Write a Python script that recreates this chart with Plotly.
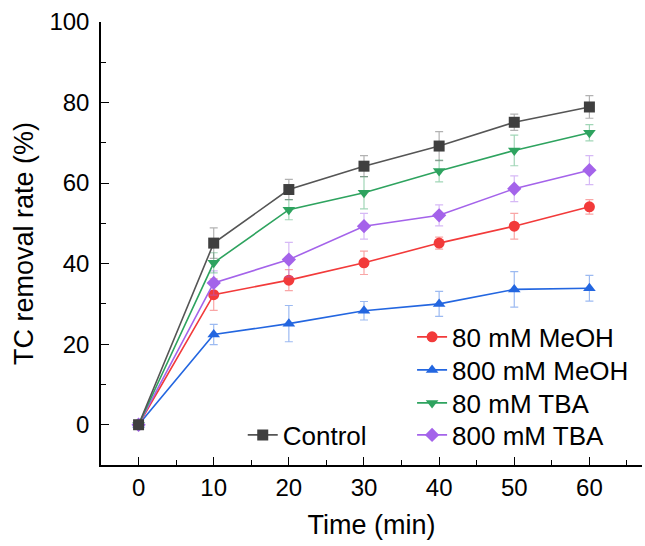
import plotly.graph_objects as go

time_min = [0, 10, 20, 30, 40, 50, 60]

series_names = ["Control", "80 mM MeOH", "800 mM MeOH", "80 mM TBA", "800 mM TBA"]

control = [0, 45.1, 58.4, 64.2, 69.2, 75.1, 78.9]
control_err = [0, 3.8, 2.5, 2.6, 3.6, 2.0, 2.8]

meoh80 = [0, 32.3, 35.9, 40.2, 45.1, 49.3, 54.1]
meoh80_err = [0, 3.9, 2.6, 2.9, 1.5, 3.2, 1.8]

meoh800 = [0, 22.4, 25.1, 28.3, 30.0, 33.6, 33.9]
meoh800_err = [0, 2.5, 4.5, 2.3, 3.1, 4.4, 3.2]

tba80 = [0, 40.2, 53.4, 57.6, 63.0, 68.1, 72.5]
tba80_err = [0, 2.5, 2.5, 4.0, 2.7, 3.8, 2.0]

tba800 = [0, 35.2, 41.0, 49.3, 52.0, 58.6, 63.2]
tba800_err = [0, 3.0, 4.3, 3.2, 2.6, 3.2, 3.6]

styles = {
    "Control": dict(color="#555555", mcolor="#3f3f3f", symbol="square"),
    "80 mM MeOH": dict(color="#f23a3a", mcolor="#f23a3a", symbol="circle"),
    "800 mM MeOH": dict(color="#2366e0", mcolor="#2366e0", symbol="triangle-up"),
    "80 mM TBA": dict(color="#2ea35f", mcolor="#2ea35f", symbol="triangle-down"),
    "800 mM TBA": dict(color="#a463ea", mcolor="#a463ea", symbol="diamond"),
}

# one legend box per series
legend_ids = {
    "Control": "legend",
    "80 mM MeOH": "legend2",
    "800 mM MeOH": "legend3",
    "80 mM TBA": "legend4",
    "800 mM TBA": "legend5",
}

def rgba(hexc, a):
    h = hexc.lstrip("#")
    r, g, b = int(h[0:2], 16), int(h[2:4], 16), int(h[4:6], 16)
    return f"rgba({r},{g},{b},{a})"

data = {
    "Control": (control, control_err),
    "80 mM MeOH": (meoh80, meoh80_err),
    "800 mM MeOH": (meoh800, meoh800_err),
    "80 mM TBA": (tba80, tba80_err),
    "800 mM TBA": (tba800, tba800_err),
}

fig = go.Figure()
draw_order = ["800 mM MeOH", "80 mM MeOH", "800 mM TBA", "80 mM TBA", "Control"]
for name in draw_order:
    y, e = data[name]
    s = styles[name]
    fig.add_trace(go.Scatter(
        x=time_min, y=y, name=name, mode="lines+markers",
        line=dict(color=s["color"], width=1.6),
        marker=dict(symbol=s["symbol"], size=11, color=s["mcolor"]),
        error_y=dict(type="data", array=e, visible=True, color=rgba(s["color"], 0.45),
                     thickness=1.2, width=4),
        legend=legend_ids[name],
    ))

leg_common = dict(xanchor="left", yanchor="middle", bgcolor="rgba(0,0,0,0)",
                  font=dict(size=26), itemwidth=30)
right_x = 0.575
fig.update_layout(
    width=645, height=546,
    margin=dict(l=101, r=3, t=22, b=81),
    paper_bgcolor="white", plot_bgcolor="white",
    font=dict(family="Liberation Sans, Arial, sans-serif", color="black", size=24),
    showlegend=True,
    legend=dict(x=0.262, y=0.0677, **leg_common),
    legend2=dict(x=right_x, y=0.289, **leg_common),
    legend3=dict(x=right_x, y=0.2144, **leg_common),
    legend4=dict(x=right_x, y=0.140, **leg_common),
    legend5=dict(x=right_x, y=0.0677, **leg_common),
)

fig.update_xaxes(
    range=[-5, 67], tickvals=[0, 10, 20, 30, 40, 50, 60],
    ticks="inside", ticklen=8, tickwidth=1.2, tickcolor="black",
    minor=dict(ticks="inside", dtick=5, tick0=0, ticklen=5, tickwidth=1.2, tickcolor="black"),
    showline=True, linecolor="black", linewidth=1.5, mirror=False,
    showgrid=False, zeroline=False,
    tickfont=dict(size=24),
    title=dict(text="Time (min)", font=dict(size=27), standoff=16),
)
fig.update_yaxes(
    range=[-10, 100], tickvals=[0, 20, 40, 60, 80, 100],
    ticks="inside", ticklen=8, tickwidth=1.2, tickcolor="black",
    minor=dict(ticks="inside", dtick=10, tick0=0, ticklen=5, tickwidth=1.2, tickcolor="black"),
    showline=True, linecolor="black", linewidth=1.5, mirror=False,
    showgrid=False, zeroline=False,
    tickfont=dict(size=24), ticklabelstandoff=5,
    title=dict(text="TC removal rate (%)", font=dict(size=27), standoff=8),
)

fig.write_html("out.html")
